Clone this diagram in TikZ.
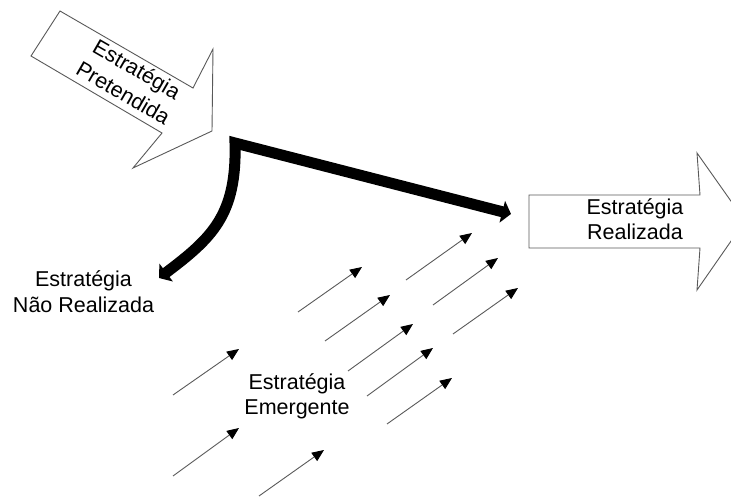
\documentclass[tikz,border=0pt]{standalone}
\usepackage{fontspec}
\setmainfont{Liberation Sans}
\usetikzlibrary{arrows.meta}
\begin{document}
\begin{tikzpicture}[x=1pt,y=-1pt,
  outline/.style={draw=black!65, line width=0.9pt, line join=miter, fill=white},
  label/.style={align=center, inner sep=0pt, font=\fontsize{21.5}{25}\selectfont},
  course/.style={line width=11pt, line join=miter,
    {Triangle[length=9pt,width=22pt]}-{Triangle[length=9pt,width=22pt]}},
  drift/.style={draw=black!65, line width=0.9pt,
    -{Triangle[length=12pt,width=10pt,color=black]}}]
\useasboundingbox (0,0) rectangle (731,497);
\clip (0,0) rectangle (731,497);

% hollow block arrows
\draw[outline] (60,11) -- (193,88) -- (213,49) -- (212,131) -- (133,168)
  -- (162,133) -- (31,56) -- cycle;
\draw[outline] (529,195) -- (700,195) -- (697,153) -- (745,221) -- (697,290)
  -- (700,248) -- (529,248) -- cycle;

% labels
\node[label, rotate=-30, font=\fontsize{21.5}{27}\selectfont] (intended) at (129,83)
  {\strut Estratégia\\\strut Pretendida};
\node[label] (realized) at (635,222.5) {\strut Estratégia\\\strut Realizada};
\node[label] (unrealized) at (83.5,294.5) {\strut Estratégia\\\strut Não Realizada};
\node[label] (emergent) at (297,396.5) {\strut Estratégia\\\strut Emergente};

% deliberate course splitting into realized and unrealized parts
\coordinate (bend) at (235,143);
\coordinate (hit) at (511,214);
\coordinate (miss) at (159,278);
\draw[course] (hit) -- (bend) .. controls (237,215) and (212,238) .. (miss);

% emergent strands
\foreach \sx/\sy/\tx/\ty [count=\i] in {
  298/312/362/267, 406/280/472/233, 325/341/390/295, 433/305/498/258,
  453/334/518/288, 348/371/413/324, 173/395/239/349, 367/396/433/348,
  387/424/452/378, 173/476/239/428, 259/496/324/450} {
  \coordinate (s\i) at (\sx,\sy);
  \coordinate (t\i) at (\tx,\ty);
  \draw[drift] (s\i) -- (t\i);
}
\end{tikzpicture}
\end{document}
